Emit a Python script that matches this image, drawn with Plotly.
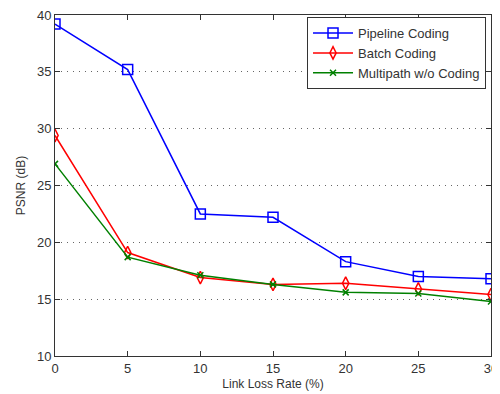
import plotly.graph_objects as go

loss_rate = [0, 5, 10, 15, 20, 25, 30]
pipeline = [39.2, 35.2, 22.5, 22.2, 18.3, 17.0, 16.8]
batch = [29.4, 19.1, 16.9, 16.3, 16.4, 15.9, 15.4]
multipath = [26.9, 18.7, 17.1, 16.3, 15.6, 15.5, 14.8]

fig = go.Figure()
fig.add_trace(go.Scatter(x=loss_rate, y=pipeline, mode="lines+markers", name="Pipeline Coding",
                         line=dict(color="#0000ff", width=1.5),
                         marker=dict(symbol="square-open", size=10, color="#0000ff", line=dict(width=1.5))))
fig.add_trace(go.Scatter(x=loss_rate, y=batch, mode="lines+markers", name="Batch Coding",
                         line=dict(color="#ff0000", width=1.5),
                         marker=dict(symbol="diamond-tall-open", size=9, color="#ff0000", line=dict(width=1.5))))
fig.add_trace(go.Scatter(x=loss_rate, y=multipath, mode="lines+markers", name="Multipath w/o Coding",
                         line=dict(color="#008000", width=1.5),
                         marker=dict(symbol="x-thin-open", size=6, color="#008000", line=dict(width=1.5, color="#008000"))))

axis_common = dict(showline=True, linecolor="#333333", linewidth=1, mirror="ticks",
                   ticks="inside", ticklen=5, tickcolor="#333333", zeroline=False, automargin=False,
                   ticklabeloverflow="allow",
                   tickfont=dict(family="Liberation Sans, Arial", size=13, color="#333333"))

# The page body adds an 8px offset, so the figure is sized to fill the rest of the window.
fig.update_layout(
    width=492, height=386,
    paper_bgcolor="white", plot_bgcolor="white",
    margin=dict(l=47, r=9, t=7, b=38),
    font=dict(family="Liberation Sans, Arial", size=13, color="#333333"),
    xaxis=dict(range=[0, 30], tickvals=[0, 5, 10, 15, 20, 25, 30], showgrid=False,
               title=dict(text="Link Loss Rate (%)", standoff=5, font=dict(size=12)), **axis_common),
    yaxis=dict(range=[10, 40], tickvals=[10, 15, 20, 25, 30, 35, 40], showgrid=True,
               gridcolor="#666666", griddash="1px,5px", gridwidth=1,
               title=dict(text="PSNR (dB)", standoff=8, font=dict(size=12)), **axis_common),
    legend=dict(x=0.578, y=0.994, xanchor="left", yanchor="top",
                bgcolor="white", bordercolor="#333333", borderwidth=1,
                font=dict(size=13, color="#333333"), tracegroupgap=0, itemwidth=40),
    showlegend=True,
)

fig.write_html("out.html")
